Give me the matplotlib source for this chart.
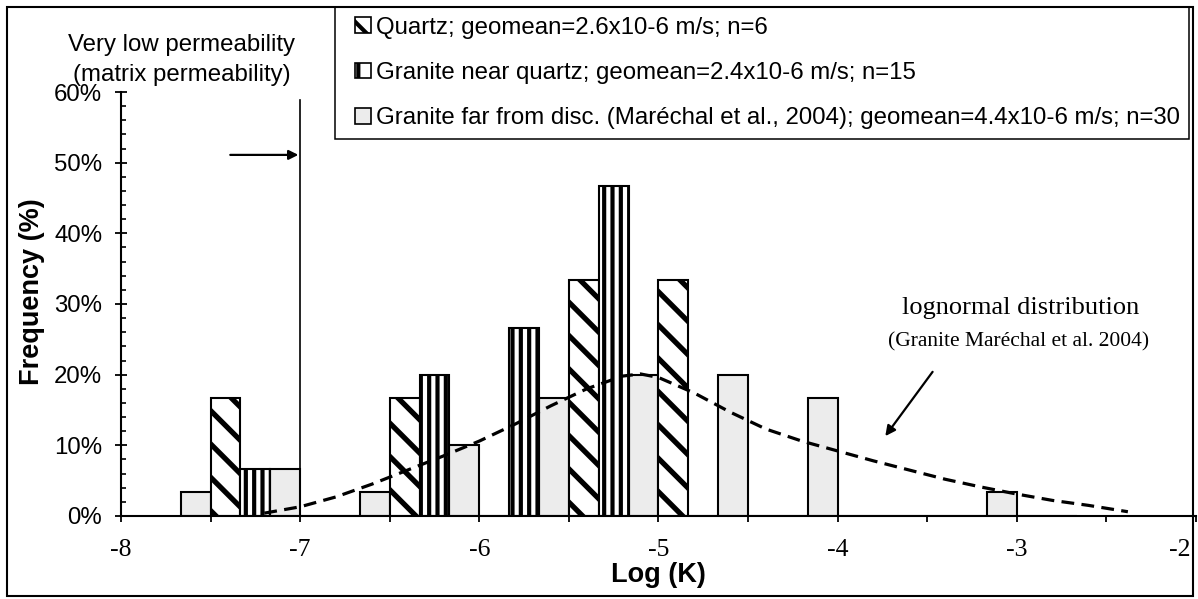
import matplotlib
matplotlib.use('Agg')
import matplotlib.pyplot as plt
import matplotlib.patches as mpatches
from matplotlib.legend_handler import HandlerPatch
from matplotlib.ticker import MultipleLocator, FuncFormatter

plt.rcParams['axes.unicode_minus'] = False

# class positions on log(K) axis and frequencies (%)
bins = [-7.5, -7.0, -6.5, -6.0, -5.5, -5.0, -4.5, -4.0, -3.5, -3.0]
far_pct = [3.33, 6.67, 3.33, 10.0, 16.67, 20.0, 20.0, 16.67, 0, 3.33]
quartz_pct = [16.67, 0, 16.67, 0, 33.33, 33.33, 0, 0, 0, 0]
near_pct = [6.67, 0, 20.0, 26.67, 46.67, 0, 0, 0, 0, 0]

# lognormal curve (Granite Marechal et al. 2004)
curve_x = [-7.2, -7.0, -6.8, -6.6, -6.4, -6.2, -6.0, -5.8, -5.6, -5.4, -5.2, -5.1,
           -5.0, -4.8, -4.6, -4.4, -4.2, -4.0, -3.8, -3.6, -3.4, -3.2, -3.0, -2.8,
           -2.6, -2.38]
curve_y = [0.4, 1.3, 2.7, 4.5, 6.5, 8.5, 10.6, 13.0, 15.6, 18.0, 19.8, 20.1,
           19.6, 17.4, 14.7, 12.3, 10.6, 9.2, 7.8, 6.5, 5.2, 4.1, 3.1, 2.2,
           1.5, 0.6]

labels = ['Quartz; geomean=2.6x10-6 m/s; n=6',
          'Granite near quartz; geomean=2.4x10-6 m/s; n=15',
          'Granite far from disc. (Maréchal et al., 2004); geomean=4.4x10-6 m/s; n=30']

sans = 'Liberation Sans'
serif = 'Liberation Serif'
fs_sans = 17.3
fs_serif = 18.5

fig = plt.figure(figsize=(11.98, 5.99), dpi=100)
ax = fig.add_axes([0.101, 0.1386, 0.8973, 0.7078])

w = 0.5 / 3
far_col = '#ececec'
ax.bar([b - w / 2 for b in bins], far_pct, w, color=far_col, edgecolor='k', lw=1.5)
plt.rcParams['hatch.linewidth'] = 3.8
ax.bar([b + w / 2 for b in bins], quartz_pct, w, color='white', edgecolor='k', lw=1.5, hatch='\\')
plt.rcParams['hatch.linewidth'] = 3.0
ax.bar([b + 3 * w / 2 for b in bins], near_pct, w, color='white', edgecolor='k', lw=1.5, hatch='||')

ax.plot(curve_x, curve_y, color='k', lw=2.3, ls=(0, (4, 2.3)))

ax.set_xlim(-8, -2)
ax.set_ylim(0, 60)
for s in ['top', 'right']:
    ax.spines[s].set_visible(False)
for s in ['left', 'bottom']:
    ax.spines[s].set_linewidth(1.5)

ax.xaxis.set_major_locator(MultipleLocator(1))
ax.xaxis.set_minor_locator(MultipleLocator(0.5))
ax.xaxis.set_major_formatter(FuncFormatter(lambda v, p: '' if v > -2.5 else f'{v:.0f}'))
ax.yaxis.set_major_locator(MultipleLocator(10))
ax.yaxis.set_minor_locator(MultipleLocator(2))
ax.yaxis.set_major_formatter(FuncFormatter(lambda v, p: f'{v:.0f}%'))
ax.tick_params(axis='x', which='both', direction='out', length=4.5, width=1.3, pad=12,
               labelsize=fs_serif, labelfontfamily=serif)
ax.tick_params(axis='y', which='major', direction='inout', length=9, width=1.3, pad=9,
               labelsize=fs_sans, labelfontfamily=sans)
ax.tick_params(axis='y', which='minor', direction='in', length=3.5, width=1.2)
# last label pulled inside the chart border
ax.annotate('-2', xy=(-2, 0), xycoords=('data', 'axes fraction'), xytext=(-4, -16.5),
            textcoords='offset points', ha='right', va='top', fontfamily=serif,
            fontsize=fs_serif, annotation_clip=False)

ax.set_xlabel('Log (K)', fontfamily=sans, fontsize=19.5, fontweight='bold', labelpad=1)
ax.set_ylabel('Frequency (%)', fontfamily=sans, fontsize=19.5, fontweight='bold')
ax.yaxis.set_label_coords(-0.071, 0.53)

# matrix permeability limit
ax.plot([-7.0, -7.0], [0, 58.9], color='k', lw=1.2, clip_on=False)
ax.annotate('', xy=(-7.01, 51.1), xytext=(-7.39, 51.1),
            arrowprops=dict(arrowstyle='-|>', color='k', lw=1.6, mutation_scale=14,
                            shrinkA=0, shrinkB=0))
ax.text(-7.66, 64.5, 'Very low permeability\n(matrix permeability)', ha='center', va='center',
        fontfamily=sans, fontsize=fs_sans, linespacing=1.45, clip_on=False)

ax.text(-2.98, 29.4, 'lognormal distribution', ha='center', va='center',
        fontfamily=serif, fontsize=19)
ax.text(-2.99, 24.6, '(Granite Maréchal et al. 2004)', ha='center', va='center',
        fontfamily=serif, fontsize=15.5)
ax.annotate('', xy=(-3.734, 11.3), xytext=(-3.47, 20.4),
            arrowprops=dict(arrowstyle='-|>', color='k', lw=1.6, mutation_scale=15,
                            shrinkA=0, shrinkB=0))


def make_square(legend, orig_handle, xdescent, ydescent, width, height, fontsize):
    s = 0.65 * fontsize
    return mpatches.Rectangle((width - s - xdescent, (height - s) / 2 - ydescent), s, s)


plt.rcParams['hatch.linewidth'] = 3.0
handles = [mpatches.Patch(facecolor='white', edgecolor='k', hatch='\\', lw=1.2),
           mpatches.Patch(facecolor='white', edgecolor='k', hatch='|', lw=1.2),
           mpatches.Patch(facecolor=far_col, edgecolor='k', lw=1.2)]
leg = ax.legend(handles, labels, loc='upper left', bbox_to_anchor=(335 / 1198, 1 - 7 / 599),
                bbox_transform=fig.transFigure, borderaxespad=0, borderpad=0.4,
                handlelength=1.1, handletextpad=0.2, labelspacing=0.97,
                fancybox=False, framealpha=1, edgecolor='k',
                prop={'family': sans, 'size': fs_sans},
                handler_map={mpatches.Patch: HandlerPatch(patch_func=make_square)})
leg.get_frame().set_linewidth(1.1)

# chart area border
fig.patches.append(mpatches.Rectangle((7 / 1198, 3 / 599), 1186 / 1198, 589 / 599,
                                      transform=fig.transFigure, fill=False,
                                      ec='k', lw=1.5))

fig.savefig('out.png', dpi=100)
